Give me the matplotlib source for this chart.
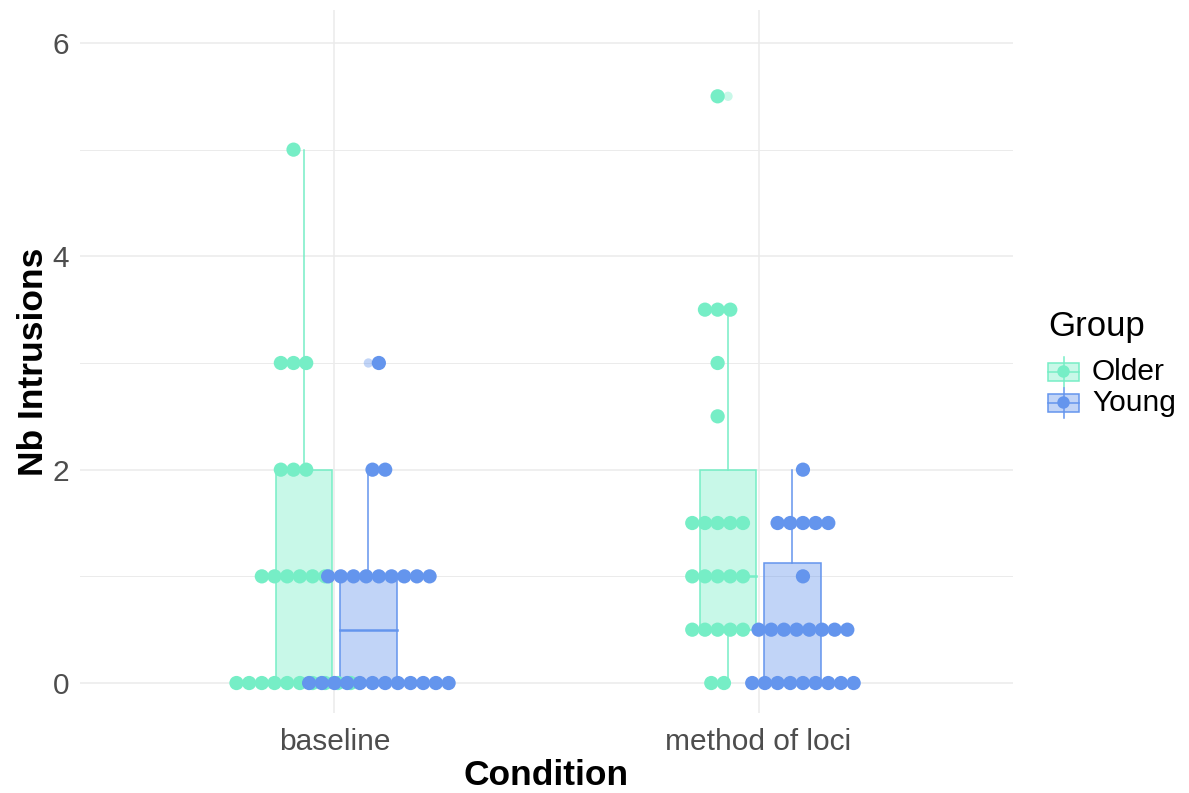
import numpy as np
import matplotlib
matplotlib.use("Agg")
import matplotlib.pyplot as plt
from matplotlib.patches import Rectangle

# ---------------- data ----------------
conditions = ["baseline", "method of loci"]
groups = ["Older", "Young"]
group_colors = ["#76EEC6", "#6495ED"]

baseline_older = [0, 0, 0, 0, 0, 0, 0, 0, 0, 0,
                  1, 1, 1, 1, 1, 1,
                  2, 2, 2,
                  3, 3, 3,
                  5]
baseline_young = [0, 0, 0, 0, 0, 0, 0, 0, 0, 0, 0, 0,
                  1, 1, 1, 1, 1, 1, 1, 1, 1,
                  2, 2,
                  3]
loci_older = [0, 0,
              0.5, 0.5, 0.5, 0.5, 0.5,
              1, 1, 1, 1, 1,
              1.5, 1.5, 1.5, 1.5, 1.5,
              2.5,
              3,
              3.5, 3.5, 3.5,
              5.5]
loci_young = [0, 0, 0, 0, 0, 0, 0, 0, 0,
              0.5, 0.5, 0.5, 0.5, 0.5, 0.5, 0.5, 0.5,
              1,
              1.5, 1.5, 1.5, 1.5, 1.5,
              2]

series = {
    ("baseline", "Older"): baseline_older,
    ("baseline", "Young"): baseline_young,
    ("method of loci", "Older"): loci_older,
    ("method of loci", "Young"): loci_young,
}

y_ticks = [0, 2, 4, 6]

# ---------------- layout / style ----------------
W, H = 1189, 793
FONT = "Liberation Sans"
plt.rcParams["font.family"] = [FONT, "DejaVu Sans"]

fig = plt.figure(figsize=(W / 100, H / 100), dpi=100)
ax = fig.add_axes([80 / W, (H - 713) / H, 933 / W, 703 / H])

box_offset = {"Older": -0.072, "Young": 0.080}
dot_offset = {"Older": -0.0965, "Young": 0.1047}
box_width = 0.134
dot_step = 0.0299
dot_size = 105
box_alpha = 0.4

ax.set_xlim(0.4, 2.6)
ax.set_ylim(-0.281, 6.309)

# grid
for y in [1, 3, 5]:
    ax.axhline(y, color="#EBEBEB", lw=0.7, zorder=0)
for y in y_ticks:
    ax.axhline(y, color="#EBEBEB", lw=1.1, zorder=0)
for i in range(len(conditions)):
    ax.axvline(i + 1, color="#EBEBEB", lw=1.1, zorder=0)

# boxes
for ci, cond in enumerate(conditions):
    for gi, grp in enumerate(groups):
        vals = np.array(series[(cond, grp)], dtype=float)
        col = group_colors[gi]
        xc = ci + 1 + box_offset[grp]
        q1, med, q3 = np.percentile(vals, [25, 50, 75])
        iqr = q3 - q1
        lo_lim, hi_lim = q1 - 1.5 * iqr, q3 + 1.5 * iqr
        inside = vals[(vals >= lo_lim) & (vals <= hi_lim)]
        wlo, whi = inside.min(), inside.max()
        outl = vals[(vals < lo_lim) | (vals > hi_lim)]
        ax.add_patch(Rectangle((xc - box_width / 2, q1), box_width, q3 - q1,
                               facecolor=col, alpha=box_alpha, edgecolor="none", zorder=2))
        ax.add_patch(Rectangle((xc - box_width / 2, q1), box_width, q3 - q1,
                               facecolor="none", edgecolor=col, lw=1.1, zorder=2.1))
        ax.plot([xc - box_width / 2, xc + box_width / 2], [med, med], color=col, lw=1.8, zorder=2.2)
        ax.plot([xc, xc], [q3, whi], color=col, lw=1.1, zorder=2.1)
        ax.plot([xc, xc], [wlo, q1], color=col, lw=1.1, zorder=2.1)
        if len(outl):
            ax.scatter(np.full(len(outl), xc), outl, s=45, color=col, alpha=0.4,
                       edgecolors="none", zorder=2.3)

# dots (dotplot, centred stacks)
for gi, grp in enumerate(groups):
    for ci, cond in enumerate(conditions):
        vals = np.array(series[(cond, grp)], dtype=float)
        col = group_colors[gi]
        xc = ci + 1 + dot_offset[grp]
        uniq, counts = np.unique(vals, return_counts=True)
        for v, n in zip(uniq, counts):
            xs = xc + (np.arange(n) - (n - 1) / 2) * dot_step
            ax.scatter(xs, np.full(n, v), s=dot_size, color=col, edgecolors="none",
                       zorder=3 + gi)

# axes
for s in ax.spines.values():
    s.set_visible(False)
ax.set_xticks([1, 2])
ax.set_xticklabels(conditions)
ax.set_yticks(y_ticks)
ax.set_yticklabels([str(t) for t in y_ticks])
ax.tick_params(axis="both", length=0, labelsize=21.5, labelcolor="#4D4D4D")
ax.tick_params(axis="y", pad=8)
ax.tick_params(axis="x", pad=11)

ax.set_xlabel("Condition", fontsize=25.5, fontweight="bold", color="black")
ax.xaxis.set_label_coords(0.5, (713 - 785) / 703)
ax.xaxis.label.set_va("baseline")
ax.set_ylabel("Nb Intrusions", fontsize=25.5, fontweight="bold", color="black")
ax.yaxis.set_label_coords((43 - 80) / 933, 0.5)
ax.yaxis.label.set_va("baseline")

# legend (drawn in pixel coordinates)
lax = fig.add_axes([0, 0, 1, 1])
lax.set_xlim(0, W)
lax.set_ylim(H, 0)
lax.axis("off")
lax.text(1048, 336, "Group", fontsize=25, ha="left", va="baseline", color="black")
key_centers = [371.5, 402.5]
for gi, grp in enumerate(groups):
    col = group_colors[gi]
    cy = key_centers[gi]
    lax.add_patch(Rectangle((1048, cy - 9), 31, 18, facecolor=col, alpha=box_alpha, edgecolor="none"))
    lax.add_patch(Rectangle((1048, cy - 9), 31, 18, facecolor="none", edgecolor=col, lw=1.1))
    lax.plot([1063.5, 1063.5], [cy - 15, cy + 15], color=col, lw=1.1)
    lax.plot([1048, 1079], [cy, cy], color=col, lw=1.1)
    lax.scatter([1063.5], [cy], s=80, color=col, edgecolors="none", zorder=5)
    lax.text(1092, cy + 8.5, grp, fontsize=21.5, ha="left", va="baseline", color="black")

fig.savefig("out.png", dpi=100)
